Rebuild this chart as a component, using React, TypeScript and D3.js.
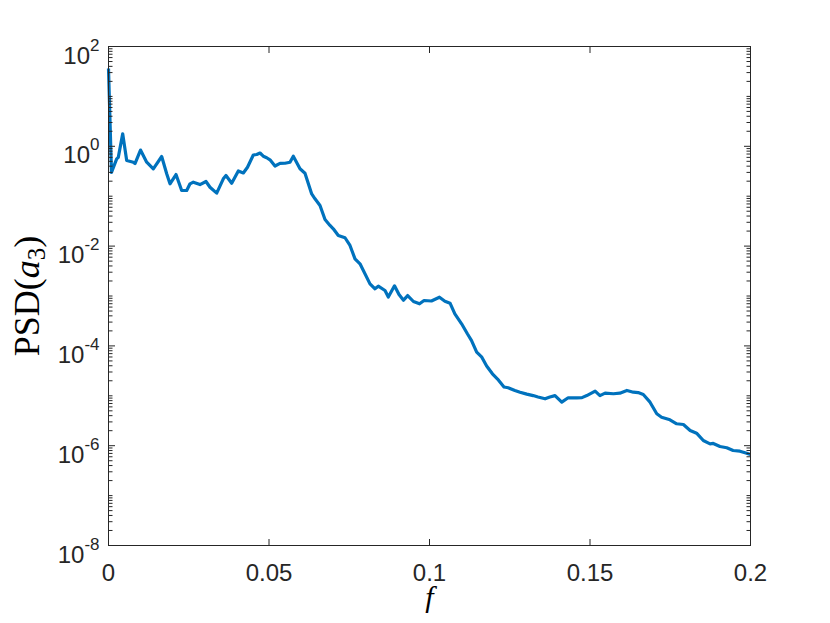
import React, { useEffect, useRef } from 'react';
import * as d3 from 'd3';

// frequency samples and PSD(a3)
const freq = [
  0, 0.00093, 0.00255, 0.00305, 0.00442, 0.00567, 0.00773, 0.00826, 0.00997, 0.0119,
  0.01396, 0.01657, 0.01813, 0.01916, 0.02103, 0.0228, 0.02436, 0.02539, 0.02642, 0.0285,
  0.03037, 0.03162, 0.03371, 0.03576, 0.0366, 0.03838, 0.04044, 0.042, 0.0433, 0.04511,
  0.04617, 0.0472, 0.04822, 0.04928, 0.05031, 0.05187, 0.05343, 0.05498, 0.05654, 0.05757,
  0.05966, 0.06121, 0.0633, 0.06433, 0.06589, 0.06745, 0.069, 0.07003, 0.07159, 0.07368,
  0.07523, 0.07679, 0.07835, 0.08146, 0.08302, 0.08405, 0.08614, 0.08717, 0.0891, 0.0905,
  0.0919, 0.0932, 0.095, 0.0969, 0.0983, 0.1006, 0.1031, 0.1048, 0.1064, 0.1079,
  0.11, 0.1118, 0.1131, 0.1147, 0.1163, 0.1178, 0.1196, 0.1212, 0.1232, 0.1245,
  0.1266, 0.1282, 0.1303, 0.1323, 0.1338, 0.136, 0.1375, 0.1391, 0.1412, 0.1432,
  0.1459, 0.1475, 0.149, 0.1516, 0.1531, 0.1547, 0.1573, 0.1593, 0.1615, 0.1635,
  0.165, 0.1666, 0.1687, 0.1708, 0.1723, 0.1749, 0.177, 0.1791, 0.1812, 0.1832,
  0.1853, 0.1874, 0.1884, 0.1905, 0.1926, 0.1946, 0.1967, 0.1988, 0.2,
];

const psd = [
  36.2, 0.3, 0.56, 0.6, 1.78, 0.52, 0.48, 0.45, 0.84, 0.48,
  0.354, 0.625, 0.281, 0.177, 0.272, 0.13, 0.13, 0.177, 0.191, 0.171,
  0.197, 0.151, 0.115, 0.223, 0.26, 0.182, 0.32, 0.292, 0.381, 0.67,
  0.685, 0.734, 0.634, 0.59, 0.536, 0.403, 0.456, 0.457, 0.48, 0.634,
  0.354, 0.289, 0.111, 0.0887, 0.0651, 0.0341, 0.0259, 0.0222, 0.0163, 0.0147,
  0.0103, 0.00556, 0.00442, 0.00175, 0.00139, 0.00157, 0.00129, 0.000955, 0.0016, 0.00107,
  0.000824, 0.00102, 0.000776, 0.000698, 0.000813, 0.000794, 0.000946, 0.000787, 0.000718, 0.00044,
  0.000277, 0.000175, 0.000128, 7.48e-5, 5.94e-5, 3.95e-5, 2.76e-5, 2.17e-5, 1.5e-5, 1.45e-5,
  1.28e-5, 1.18e-5, 1.08e-5, 1.01e-5, 9.46e-6, 8.71e-6, 9.46e-6, 1.01e-5, 7.45e-6, 9.12e-6,
  9.12e-6, 9.2e-6, 1.01e-5, 1.24e-5, 1.01e-5, 1.13e-5, 1.1e-5, 1.13e-5, 1.28e-5, 1.18e-5,
  1.16e-5, 1.06e-5, 7.45e-6, 4.36e-6, 3.72e-6, 3.3e-6, 2.75e-6, 2.66e-6, 2.02e-6, 1.78e-6,
  1.27e-6, 1.09e-6, 1.11e-6, 9.64e-7, 9.08e-7, 8.02e-7, 7.76e-7, 7.08e-7, 6.67e-7,
];

const xTicks = [0, 0.05, 0.1, 0.15, 0.2];
const xTickLabels = ['0', '0.05', '0.1', '0.15', '0.2'];
const yExponents = [2, 0, -2, -4, -6, -8];

const W = 830;
const H = 623;
const margin = { top: 46.5, right: 79.5, bottom: 77.5, left: 108.5 };
const ink = '#262626';
const tickFont = '"Liberation Sans", Arial, Helvetica, sans-serif';
const serif = '"Liberation Serif", "Times New Roman", serif';

const App = () => {
  const ref = useRef<SVGSVGElement | null>(null);

  useEffect(() => {
    if (!ref.current) return;
    const svg = d3.select(ref.current);
    svg.selectAll('*').remove();

    const x = d3.scaleLinear().domain([0, 0.2]).range([margin.left, W - margin.right]);
    const y = d3.scaleLog().domain([1e-8, 1e2]).range([H - margin.bottom, margin.top]);
    const [x0, x1] = x.range();
    const [yb, yt] = y.range();

    svg.append('rect').attr('width', W).attr('height', H).attr('fill', '#fff');

    // the data line
    const line = d3
      .line<number>()
      .x((_, i) => x(freq[i]))
      .y((d) => y(d));

    svg
      .append('path')
      .datum(psd)
      .attr('d', line)
      .attr('fill', 'none')
      .attr('stroke', '#0072BD')
      .attr('stroke-width', 3.2)
      .attr('stroke-linejoin', 'round');

    // box
    svg
      .append('rect')
      .attr('x', x0)
      .attr('y', yt)
      .attr('width', x1 - x0)
      .attr('height', yb - yt)
      .attr('fill', 'none')
      .attr('stroke', ink)
      .attr('stroke-width', 1);

    const ticks = svg.append('g').attr('stroke', ink).attr('stroke-width', 1);

    // x ticks, bottom and top, pointing inward
    xTicks.forEach((t) => {
      ticks.append('line').attr('x1', x(t)).attr('x2', x(t)).attr('y1', yb).attr('y2', yb - 6.5);
      ticks.append('line').attr('x1', x(t)).attr('x2', x(t)).attr('y1', yt).attr('y2', yt + 6.5);
    });

    // y ticks: major every two decades, minor ones in between
    const minor: number[] = [];
    for (let k = -8; k < 2; k++) {
      for (let m = 1; m <= 9; m++) {
        if (m === 1 && k % 2 === 0) continue;
        minor.push(m * Math.pow(10, k));
      }
    }
    yExponents.forEach((e) => {
      const v = y(Math.pow(10, e));
      ticks.append('line').attr('x1', x0).attr('x2', x0 + 6.5).attr('y1', v).attr('y2', v);
      ticks.append('line').attr('x1', x1).attr('x2', x1 - 6.5).attr('y1', v).attr('y2', v);
    });
    minor.forEach((m) => {
      const v = y(m);
      ticks.append('line').attr('x1', x0).attr('x2', x0 + 4).attr('y1', v).attr('y2', v);
      ticks.append('line').attr('x1', x1).attr('x2', x1 - 4).attr('y1', v).attr('y2', v);
    });

    // x tick labels
    xTicks.forEach((t, i) => {
      svg
        .append('text')
        .attr('x', x(t))
        .attr('y', yb + 35)
        .attr('text-anchor', 'middle')
        .attr('font-family', tickFont)
        .attr('font-size', 24)
        .attr('fill', ink)
        .text(xTickLabels[i]);
    });

    // y tick labels 10^k
    yExponents.forEach((e) => {
      const v = y(Math.pow(10, e));
      const txt = svg
        .append('text')
        .attr('x', x0 - 9)
        .attr('y', v + 17)
        .attr('text-anchor', 'end')
        .attr('font-family', tickFont)
        .attr('font-size', 24)
        .attr('fill', ink);
      txt.append('tspan').text('10');
      txt.append('tspan').attr('dy', -13).attr('font-size', 17).text(String(e));
    });

    // axis labels
    const yl = svg
      .append('text')
      .attr('transform', `translate(39, ${(yt + yb) / 2}) rotate(-90)`)
      .attr('text-anchor', 'middle')
      .attr('font-family', serif)
      .attr('font-size', 36)
      .attr('fill', '#000');
    yl.append('tspan').text('PSD(');
    yl.append('tspan').attr('font-style', 'italic').text('a');
    yl.append('tspan').attr('font-size', 25).attr('dy', 6).text('3');
    yl.append('tspan').attr('dy', -6).text(')');

    svg
      .append('text')
      .attr('x', (x0 + x1) / 2)
      .attr('y', yb + 61)
      .attr('text-anchor', 'middle')
      .attr('font-family', serif)
      .attr('font-style', 'italic')
      .attr('font-size', 30)
      .attr('fill', '#000')
      .text('f');
  }, []);

  return (
    <svg
      ref={ref}
      width={W}
      height={H}
      style={{ position: 'absolute', left: 0, top: 0 }}
    ></svg>
  );
};

export default App;
